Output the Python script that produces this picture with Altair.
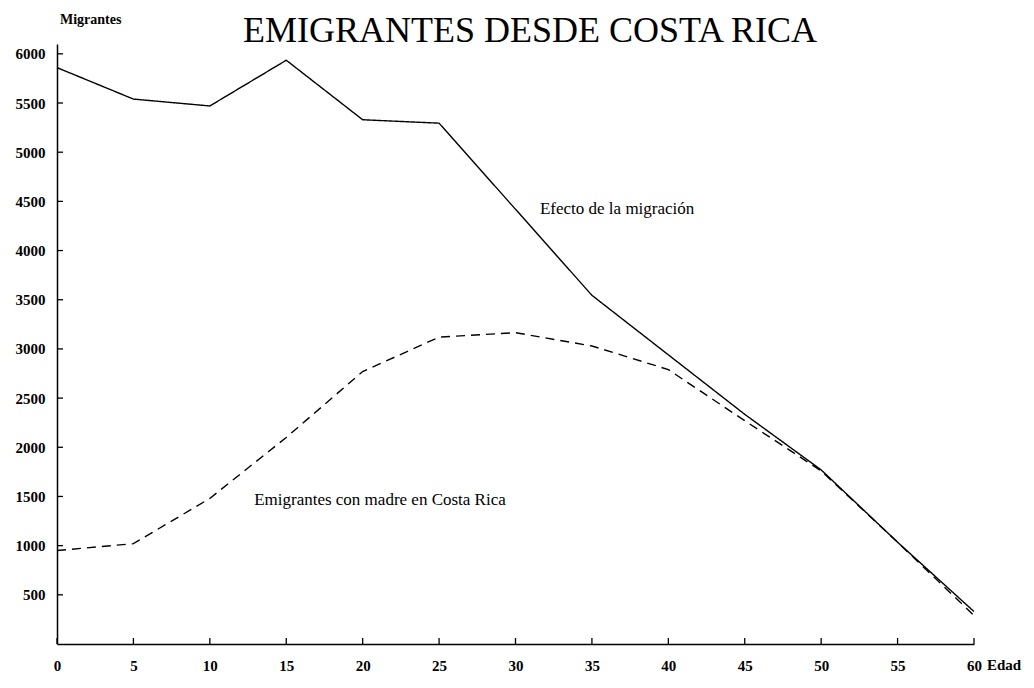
import altair as alt
import pandas as pd

# ---- data ----
edad = [0, 5, 10, 15, 20, 25, 30, 35, 40, 45, 50, 55, 60]
efecto_migracion = [5860, 5540, 5470, 5935, 5330, 5295, 4420, 3545, 2940, 2335, 1770, 1035, 330]
con_madre_cr = [950, 1020, 1480, 2100, 2770, 3120, 3165, 3030, 2790, 2270, 1760, 1035, 290]
series_names = ["Efecto de la migración", "Emigrantes con madre en Costa Rica"]
label_x = [31.6, 12.9]
label_y = [4424, 1465]
x_ticks = list(range(0, 61, 5))
y_ticks = list(range(500, 6001, 500))
title_text = "EMIGRANTES DESDE COSTA RICA"
y_title = "Migrantes"
x_title = "Edad"

FONT = "Liberation Serif"
W, H = 917, 600

lines_df = pd.DataFrame({
    "edad": edad + edad,
    "migrantes": efecto_migracion + con_madre_cr,
    "serie": [series_names[0]] * len(edad) + [series_names[1]] * len(edad),
})

x_scale = alt.Scale(domain=[0, 60], nice=False, zero=False)
y_scale = alt.Scale(domain=[0, 6100], nice=False)

axis_common = dict(
    title=None, grid=False, ticks=False, tickSize=0,
    labelFont=FONT, labelFontSize=15, labelFontWeight="bold",
    labelColor="black", domainColor="black", domainWidth=1.5,
    labelOverlap=False, labelFlush=False, format="d",
)
x_axis = alt.Axis(values=x_ticks, labelPadding=14, **axis_common)
y_axis = alt.Axis(values=y_ticks, labelPadding=12, **axis_common)

lines = alt.Chart(lines_df).mark_line(color="black", strokeWidth=1.4).encode(
    x=alt.X("edad:Q", scale=x_scale, axis=x_axis),
    y=alt.Y("migrantes:Q", scale=y_scale, axis=y_axis),
    strokeDash=alt.StrokeDash("serie:N",
                              scale=alt.Scale(domain=series_names, range=[[1, 0], [9, 6]]),
                              legend=None),
    detail="serie:N",
)

# inward tick marks
ytick_df = pd.DataFrame({"v": y_ticks})
yticks = alt.Chart(ytick_df).mark_rule(color="black", strokeWidth=1.3).encode(
    y=alt.Y("v:Q", scale=y_scale, axis=y_axis),
    x=alt.value(0), x2=alt.value(6),
)
xtick_df = pd.DataFrame({"v": x_ticks})
xticks = alt.Chart(xtick_df).mark_rule(color="black", strokeWidth=1.3).encode(
    x=alt.X("v:Q", scale=x_scale, axis=x_axis),
    y=alt.value(H), y2=alt.value(H - 6),
)

# series labels
annot_df = pd.DataFrame({"x": label_x, "y": label_y, "t": series_names})
annots = alt.Chart(annot_df).mark_text(
    font=FONT, fontSize=17, align="left", baseline="middle", color="black"
).encode(
    x=alt.X("x:Q", scale=x_scale, axis=x_axis),
    y=alt.Y("y:Q", scale=y_scale, axis=y_axis),
    text="t:N",
)

title = alt.Chart(pd.DataFrame({"t": [title_text]})).mark_text(
    font=FONT, fontSize=36, align="center", baseline="middle", color="black"
).encode(x=alt.value(473), y=alt.value(-13), text="t:N")

ytitle = alt.Chart(pd.DataFrame({"t": [y_title]})).mark_text(
    font=FONT, fontSize=14, fontWeight="bold", align="left", baseline="middle", color="black"
).encode(x=alt.value(3), y=alt.value(-24), text="t:N")

xtitle = alt.Chart(pd.DataFrame({"t": [x_title]})).mark_text(
    font=FONT, fontSize=15, fontWeight="bold", align="left", baseline="top", color="black"
).encode(x=alt.value(W + 13), y=alt.value(H + 14), text="t:N")

chart = alt.layer(lines, yticks, xticks, annots, title, ytitle, xtitle).properties(
    width=W, height=H,
    padding={"left": 49, "top": 36, "right": 52, "bottom": 28},
    autosize=alt.AutoSizeParams(type="none"),
    background="white",
).configure_view(stroke=None)

chart.save("out.html", embed_options={"renderer": "svg", "actions": False})
